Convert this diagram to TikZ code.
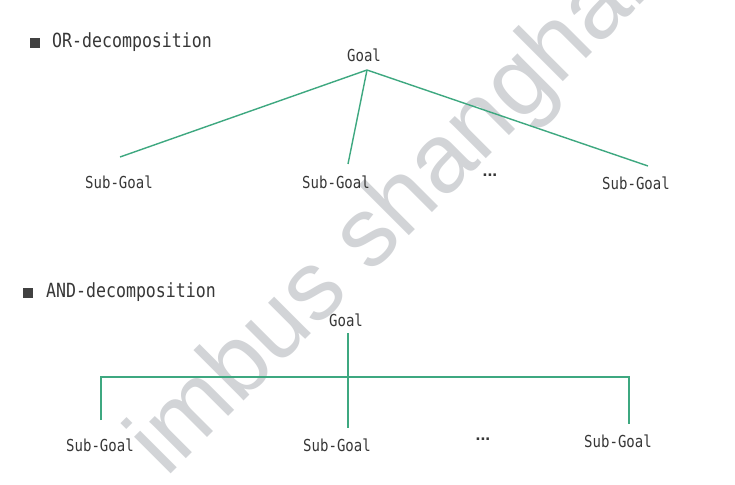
\documentclass[tikz,border=0pt]{standalone}
\usepackage{fontspec}
\setmainfont{DejaVu Sans Mono}[FakeStretch=0.85]
\newfontfamily\wmfont{Liberation Sans}
\definecolor{lgreen}{RGB}{62,168,128}
\definecolor{txtgray}{RGB}{55,55,55}
\definecolor{wmgray}{RGB}{210,212,215}
\begin{document}
\begin{tikzpicture}[x=1pt,y=-1pt,
  lbl/.style={inner sep=0pt,text=txtgray,font=\fontsize{16.5}{18}\selectfont},
  dots/.style={inner sep=0pt,text=txtgray,font=\wmfont\bfseries\fontsize{17.5}{18}\selectfont},
  hdr/.style={inner sep=0pt,text=txtgray,font=\fontsize{19.5}{21}\selectfont,anchor=west},
  bullet/.style={fill=txtgray!95,minimum size=10pt,inner sep=0pt},
  link/.style={draw=lgreen,line width=1.4pt},
  wm/.style={text=wmgray,font=\wmfont\fontsize{98}{100}\selectfont,rotate=45,anchor=base west,inner sep=0pt}
]
\useasboundingbox (0,0) rectangle (735,484);
\fill[white] (0,0) rectangle (735,484);
% watermark
\node[wm] (wmark) at (166,479) {imbus shanghai};
% OR-decomposition
\node[bullet] (b1) at (34.5,43) {};
\node[hdr] (h1) at (52,42) {OR-decomposition};
\node[lbl] (g1) at (364,55) {Goal};
\coordinate (apex) at (367,70);
\node[lbl] (s11) at (119,182) {Sub-Goal};
\node[lbl] (s12) at (336,182) {Sub-Goal};
\node[dots] (d1) at (490,175) {...};
\node[lbl] (s13) at (636,183) {Sub-Goal};
\coordinate (e11) at (120,157);
\coordinate (e12) at (348,164);
\coordinate (e13) at (648,166);
\draw[link] (e11) -- (apex) -- (e13);
\draw[link] (apex) -- (e12);
% AND-decomposition
\node[bullet] (b2) at (28,292.5) {};
\node[hdr] (h2) at (46,292) {AND-decomposition};
\node[lbl] (g2) at (346,320) {Goal};
\node[lbl] (s21) at (100,445) {Sub-Goal};
\node[lbl] (s22) at (337,445) {Sub-Goal};
\node[dots] (d2) at (483,439) {...};
\node[lbl] (s23) at (618,441) {Sub-Goal};
\coordinate (top) at (348,333);
\coordinate (mid) at (348,377);
\coordinate (e21) at (101,420);
\coordinate (e22) at (348,428);
\coordinate (e23) at (629,424);
\draw[link] (top) -- (e22);
\draw[link] (e21) |- (mid) -| (e23);
\end{tikzpicture}
\end{document}
